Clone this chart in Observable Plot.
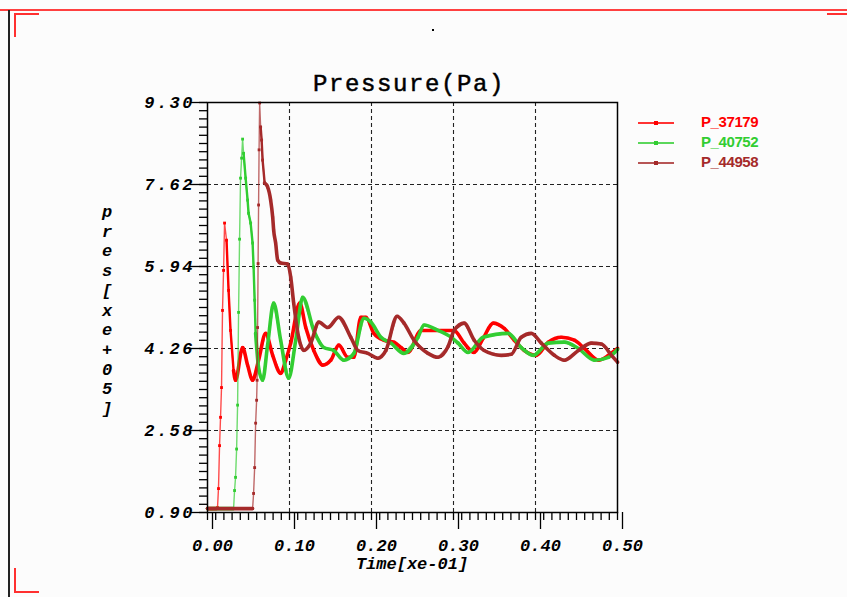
<!DOCTYPE html>
<html>
<head>
<meta charset="utf-8">
<script src="https://cdn.jsdelivr.net/npm/d3@7"></script>
<script src="https://cdn.jsdelivr.net/npm/@observablehq/plot@0.6"></script>
<style>
  html, body { margin: 0; padding: 0; background: #ffffff; }
  #page { position: relative; width: 847px; height: 597px; background: #fcfcfc; overflow: hidden; }
  #chart { position: absolute; left: 0; top: 0; }
  .abs { position: absolute; }
  #title { left: 0; width: 818px; top: 71px; text-align: center; font-family: "Liberation Mono", monospace; font-size: 24px; letter-spacing: 1.6px; color: #000; -webkit-text-stroke: 0.5px #000; }
  #ylabel { left: 97px; top: 203px; width: 20px; text-align: center; font-family: "Liberation Mono", monospace; font-size: 17px; font-weight: bold; font-style: italic; line-height: 19.7px; color: #000; }
  #xlabel { left: 207px; width: 410px; top: 555px; text-align: center; font-family: "Liberation Mono", monospace; font-size: 17px; font-weight: bold; font-style: italic; color: #000; }
  .leg { position: absolute; left: 638px; width: 36px; height: 0; }
  .leg .ln { position: absolute; left: 0; top: -0.6px; width: 36px; height: 1.3px; opacity: 0.8; }
  .leg .mk { position: absolute; left: 16px; top: -2px; width: 4px; height: 4px; }
  .legt { position: absolute; left: 701px; font-family: "Liberation Sans", Arial, sans-serif; font-weight: bold; font-size: 15px; letter-spacing: -0.4px; line-height: 15px; }
  g[aria-label="y-axis tick label"] { letter-spacing: 2.5px; }
</style>
</head>
<body>
<div id="page">
  <div id="chart"></div>
  <!-- page decorations -->
  <div class="abs" style="left:0;top:9px;width:847px;height:1.5px;background:#ff4040;"></div>
  <div class="abs" style="left:8px;top:10px;width:1.5px;height:587px;background:#222;"></div>
  <div class="abs" style="left:14px;top:13px;width:25px;height:1.5px;background:#ff3030;"></div>
  <div class="abs" style="left:14px;top:13px;width:1.5px;height:24px;background:#ff3030;"></div>
  <div class="abs" style="left:827px;top:13px;width:20px;height:1.5px;background:#ff3030;"></div>
  <div class="abs" style="left:14px;top:568px;width:1.5px;height:24px;background:#ff3030;"></div>
  <div class="abs" style="left:14px;top:591px;width:25px;height:1.5px;background:#ff3030;"></div>
  <div class="abs" style="left:432px;top:29px;width:2px;height:2px;background:#000;"></div>

  <div id="title" class="abs">Pressure(Pa)</div>
  <div id="ylabel" class="abs"></div>
  <div id="xlabel" class="abs">Time[xe-01]</div>
  <div id="legend"></div>
</div>
<script>
// ---------- data ----------
const seriesNames = ["P_37179", "P_40752", "P_44958"];
const seriesColors = ["#ff0000", "#32cd32", "#a52a2a"];

const xTickValues = [0.00, 0.10, 0.20, 0.30, 0.40, 0.50];
const yTickValues = [0.90, 2.58, 4.26, 5.94, 7.62, 9.30];
const yAxisLabel = "pres[xe+05]";

const redT = [0, 0.011, 0.0122, 0.0134, 0.0147, 0.0159, 0.0171, 0.0183, 0.0196, 0.0208, 0.0232, 0.0257, 0.0281, 0.0318, 0.0342,
  0.0428, 0.0489, 0.055, 0.0623, 0.0709, 0.0795, 0.0892, 0.0954, 0.1015, 0.1125, 0.1198, 0.1296, 0.1406, 0.1504, 0.1601,
  0.1711, 0.1785, 0.187, 0.1932, 0.2029, 0.2152, 0.2274, 0.2359, 0.2445, 0.2604, 0.2726, 0.2885, 0.3007, 0.313, 0.3252,
  0.3362, 0.3484, 0.3619, 0.3741, 0.3863, 0.401, 0.4156, 0.4315, 0.4474, 0.4597, 0.4768, 0.489, 0.5];
const redV = [0.98, 0.98, 1.00, 1.39, 2.27, 2.85, 3.46, 5.04, 5.86, 6.83, 6.48, 5.45, 4.63, 3.81, 3.61,
  4.28, 3.92, 3.61, 4.02, 4.57, 4.12, 3.75, 4.02, 4.37, 5.19, 4.69, 4.22, 3.92, 4.02, 4.33,
  4.08, 4.08, 4.90, 4.90, 4.57, 4.43, 4.39, 4.28, 4.18, 4.63, 4.63, 4.63, 4.63, 4.37, 4.18,
  4.47, 4.78, 4.67, 4.43, 4.22, 4.12, 4.39, 4.49, 4.43, 4.26, 4.02, 4.12, 4.26];

const greenT = [0, 0.0318, 0.033, 0.0342, 0.0355, 0.0367, 0.0379, 0.0391, 0.0403, 0.0416, 0.0428, 0.044, 0.0465, 0.0489,
  0.0501, 0.0526, 0.055, 0.0562, 0.0575, 0.0587, 0.0623, 0.0672, 0.0733, 0.0807, 0.0892, 0.099, 0.1076, 0.1161, 0.1296,
  0.1418, 0.154, 0.1663, 0.1785, 0.1907, 0.1993, 0.2115, 0.2237, 0.2396, 0.2567, 0.2641, 0.2812, 0.2971, 0.3056, 0.3178,
  0.3362, 0.3667, 0.3826, 0.3973, 0.4156, 0.4352, 0.4523, 0.4719, 0.489, 0.5];
const greenV = [0.98, 0.98, 1.35, 1.62, 2.2, 3.1, 5.0, 6.5, 7.75, 8.16, 8.55, 8.26, 7.75, 7.30,
  7.03, 6.83, 6.42, 5.93, 5.25, 4.57, 3.87, 3.61, 4.33, 5.19, 4.43, 3.65, 4.43, 5.31, 4.63,
  4.28, 4.22, 4.02, 4.16, 4.88, 4.80, 4.49, 4.37, 4.16, 4.49, 4.74, 4.63, 4.49, 4.37, 4.18,
  4.49, 4.57, 4.28, 4.12, 4.37, 4.39, 4.26, 4.02, 4.08, 4.24];

const brownT = [0, 0.055, 0.0562, 0.0575, 0.0587, 0.0599, 0.0605, 0.0611, 0.0617, 0.0623, 0.0629, 0.0636, 0.0648, 0.066,
  0.0672, 0.0697, 0.0733, 0.077, 0.0795, 0.0807, 0.0831, 0.0856, 0.0892, 0.0978, 0.1015, 0.1051, 0.1112, 0.1174, 0.1259,
  0.1357, 0.1467, 0.1601, 0.1748, 0.1834, 0.1956, 0.2078, 0.2176, 0.2311, 0.2396, 0.2518, 0.2689, 0.2812, 0.2934, 0.3007,
  0.313, 0.3252, 0.3374, 0.3582, 0.3704, 0.3826, 0.3949, 0.4071, 0.423, 0.4352, 0.4523, 0.4682, 0.4804, 0.4927, 0.5];
const brownV = [0.98, 0.98, 1.29, 1.82, 2.73, 3.20, 3.61, 4.69, 6.0, 7.2, 8.33, 9.29, 8.80, 8.53,
  8.12, 7.65, 7.57, 7.30, 6.95, 6.68, 6.42, 6.07, 6.01, 5.99, 5.72, 5.19, 4.49, 4.22, 4.37,
  4.80, 4.69, 4.90, 4.49, 4.22, 4.16, 4.06, 4.22, 4.92, 4.78, 4.43, 4.16, 4.08, 4.30, 4.63,
  4.78, 4.43, 4.22, 4.12, 4.14, 4.49, 4.57, 4.37, 4.12, 4.02, 4.22, 4.37, 4.35, 4.12, 3.98];

// where the sampled points are dense enough to form a thick band (style only)
const flatEnds = [0.011, 0.0318, 0.055];
const midFroms = [0.0232, 0.044, 0.0648];
const denseFroms = [0.0318, 0.0587, 0.0697];

// ---------- build ----------
const allT = [redT, greenT, brownT];
const allV = [redV, greenV, brownV];

const xMinor = d3.range(0, 51).map(i => +(i * 0.01).toFixed(3));
const yMinor = d3.range(0, 51).map(i => +(0.9 + i * 0.168).toFixed(3));

const marks = [
  Plot.gridX(xTickValues.slice(1, -1), {stroke: "#222", strokeOpacity: 1, strokeWidth: 1.1, strokeDasharray: "4,3"}),
  Plot.gridY(yTickValues.slice(1, -1), {stroke: "#222", strokeOpacity: 1, strokeWidth: 1.1, strokeDasharray: "4,3"})
];

seriesNames.forEach((name, k) => {
  const color = seriesColors[k];
  const rows = allT[k].map((t, i) => ({t, v: allV[k][i]}));
  const thick = rows
    .map(d => ({...d, seg: d.t <= flatEnds[k] ? "a" : d.t >= denseFroms[k] ? "b" : null}))
    .filter(d => d.seg);
  const mid = rows.filter(d => d.t >= midFroms[k] && d.t <= denseFroms[k]);
  marks.push(Plot.line(rows, {x: "t", y: "v", stroke: color, strokeWidth: 1.4, strokeOpacity: 0.7}));
  marks.push(Plot.line(mid, {x: "t", y: "v", stroke: color, strokeWidth: 2.4}));
  marks.push(Plot.line(thick, {x: "t", y: "v", z: "seg", stroke: color, strokeWidth: 3.6, curve: "monotone-x"}));
  marks.push(Plot.dot(rows, {x: "t", y: "v", symbol: "square", r: 1.6, fill: color}));
});

marks.push(
  Plot.axisX({ticks: xMinor, tickSize: 8, tickFormat: () => "", strokeWidth: 1.3, label: null}),
  Plot.axisX({ticks: xTickValues, tickSize: 17, tickPadding: 9, dx: 5, strokeWidth: 1.3,
    tickFormat: d => d.toFixed(2), label: null}),
  Plot.axisY({ticks: yMinor, tickSize: 8, tickFormat: () => "", strokeWidth: 1.3, label: null}),
  Plot.axisY({ticks: yTickValues, tickSize: 17, tickPadding: -4.5, strokeWidth: 1.3,
    tickFormat: d => d.toFixed(2), label: null}),
  Plot.frame({stroke: "#000", strokeWidth: 1.5})
);

const chart = Plot.plot({
  width: 847,
  height: 597,
  marginLeft: 207,
  marginRight: 230,
  marginTop: 102,
  marginBottom: 85,
  x: {domain: [0, 0.5], label: null},
  y: {domain: [0.9, 9.3], label: null},
  style: {
    background: "transparent",
    color: "#000",
    fontFamily: "'Liberation Mono', monospace",
    fontSize: "17px",
    fontWeight: "bold",
    fontStyle: "italic",
    overflow: "visible"
  },
  marks
});
document.getElementById("chart").appendChild(chart);

// y label, one character per line
document.getElementById("ylabel").innerHTML = yAxisLabel.split("").join("<br>");

// legend
const legend = document.getElementById("legend");
const legY = [123, 143, 163];
seriesNames.forEach((name, k) => {
  const g = document.createElement("div");
  g.className = "leg";
  g.style.top = legY[k] + "px";
  g.innerHTML = `<div class="ln" style="background:${seriesColors[k]}"></div><div class="mk" style="background:${seriesColors[k]}"></div>`;
  legend.appendChild(g);
  const t = document.createElement("div");
  t.className = "legt";
  t.style.top = (legY[k] - 9) + "px";
  t.style.color = seriesColors[k];
  t.textContent = name;
  legend.appendChild(t);
});
</script>
</body>
</html>
